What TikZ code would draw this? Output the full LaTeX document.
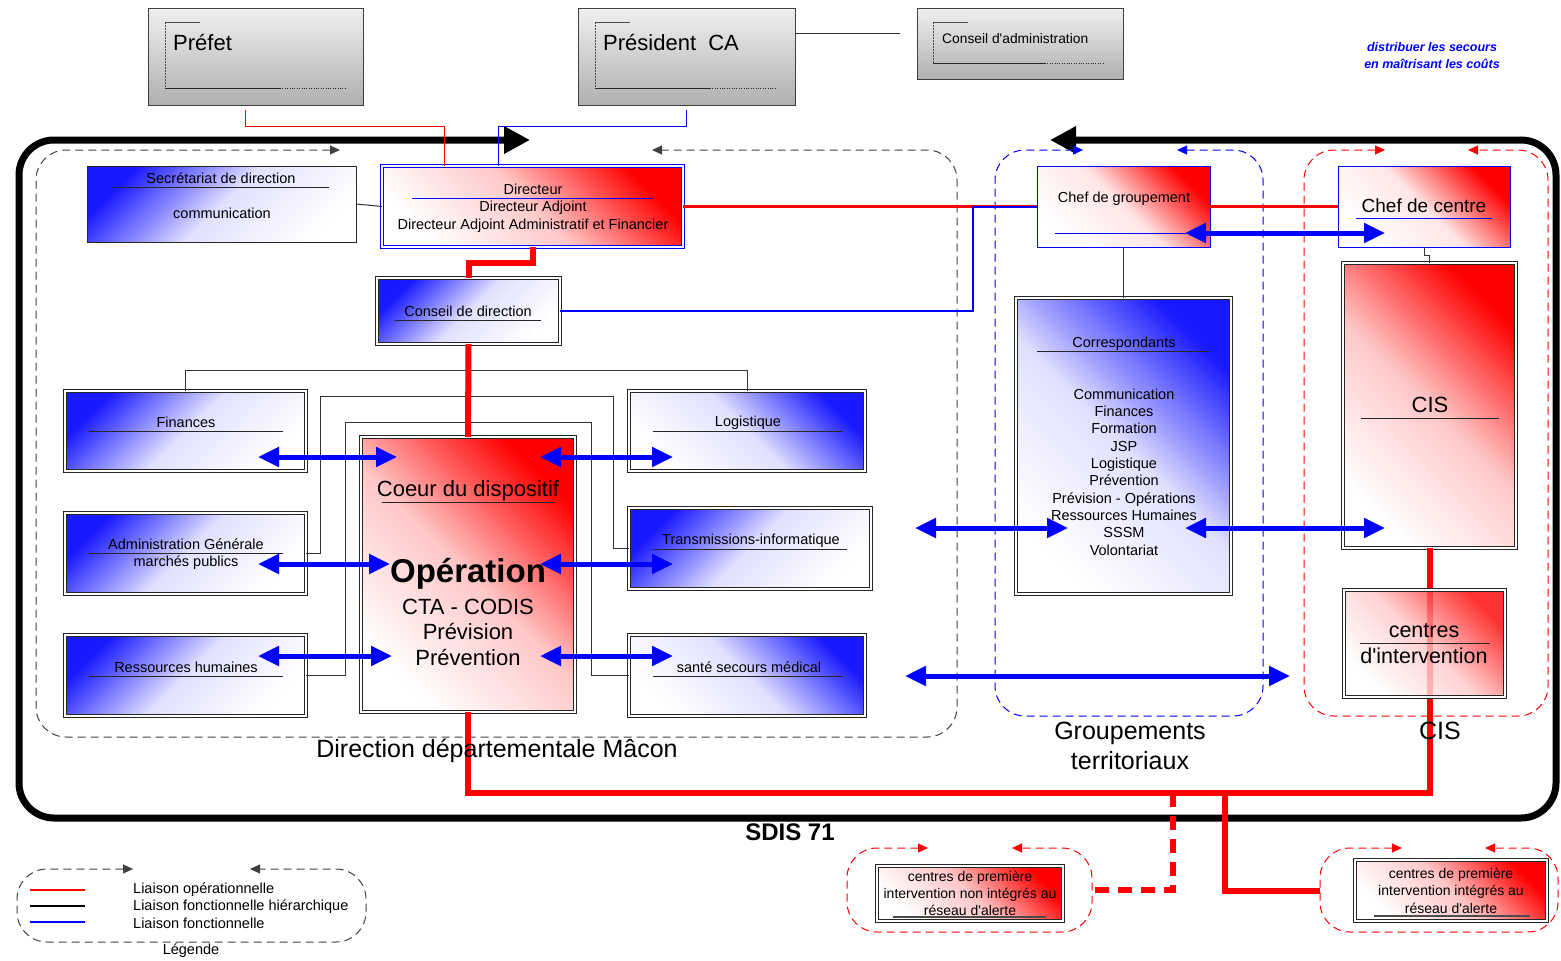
\documentclass[tikz,border=0pt]{standalone}
\usepackage{fontspec}
\setmainfont{Liberation Sans}
\usetikzlibrary{arrows.meta}

\tikzset{
  boite/.style={anchor=north west, inner sep=0pt, outer sep=0pt},
  grise/.style={boite, draw=black!75, line width=1pt, top color=gray!12, bottom color=gray!62},
  bleuesimple/.style={boite, draw=black!85, line width=1pt, top color=blue!90, bottom color=white, middle color=blue!12!white, shading angle=45},
  bleue/.style={boite, draw=black!85, double=white, double distance=2.4pt, line width=0.9pt, top color=blue!90, bottom color=white, middle color=blue!12!white, shading angle=45},
  bleued/.style={bleue, shading angle=-45},
  rouge/.style={boite, draw=black!85, double=white, double distance=2.4pt, line width=0.9pt, top color=red, bottom color=white, middle color=red!22!white, shading angle=-45},
  dirbox/.style={rouge, draw=blue},
  chef/.style={boite, draw=blue, line width=1pt, top color=red, bottom color=white, middle color=red!10!white, shading angle=-45},
  cadre/.style={line width=7pt, rounded corners=35pt, >={Triangle[length=26pt,width=26pt]}, <->},
  zone/.style={line width=1pt, dash pattern=on 8pt off 5pt, rounded corners=30pt, >={Triangle[length=10pt,width=9pt]}, <->},
  op/.style={red, line width=6pt},
  opmoy/.style={red, line width=3pt},
  opfin/.style={red, line width=1pt},
  fonc/.style={blue, line width=1pt},
  foncmoy/.style={blue, line width=2pt},
  hier/.style={black!80, line width=1pt},
  bleuarrow/.style={blue, line width=5pt, >={Triangle[length=21pt,width=19pt]}, <->},
  souligne/.style={black!85, line width=1pt},
  petit/.style={inner sep=0pt, align=center, font=\fontsize{14.5}{17.3}\selectfont},
  grand/.style={inner sep=0pt, align=center, font=\fontsize{22}{25.5}\selectfont},
  enorme/.style={inner sep=0pt, align=center, font=\fontsize{25}{30}\selectfont}
}

\begin{document}
\begin{tikzpicture}[x=1pt,y=-1pt]
\useasboundingbox (0,0) rectangle (1561,961);

% cadre SDIS et zones
\draw[cadre] (1050,140) -- (1556,140) -- (1556,818) -- (19,818) -- (19,140) -- (530,140);
\draw[zone, black!75] (340,150) -- (36,150) -- (36,737) -- (957,737) -- (957,150) -- (652,150);
\draw[zone, blue] (1083,150) -- (995,150) -- (995,716) -- (1263,716) -- (1263,150) -- (1177,150);
\draw[zone, red] (1385,150) -- (1304,150) -- (1304,716) -- (1548,716) -- (1548,150) -- (1468,150);
\draw[zone, red] (928,848) -- (847,848) -- (847,932) -- (1092,932) -- (1092,848) -- (1012,848);
\draw[zone, red] (1402,848) -- (1320,848) -- (1320,932) -- (1558,932) -- (1558,848) -- (1485,848);
\draw[zone, black!75] (133,869) -- (17,869) -- (17,942) -- (366,942) -- (366,869) -- (250,869);

% boites
\node[grise, minimum width=215pt, minimum height=97pt] (prefet) at (148,8) {};
\node[grise, minimum width=217pt, minimum height=97pt] (president) at (578,8) {};
\node[grise, minimum width=206pt, minimum height=71pt] (conseiladm) at (917,8) {};
\node[bleuesimple, minimum width=269pt, minimum height=76pt] (secretariat) at (87,166) {};
\node[dirbox, minimum width=301pt, minimum height=81pt] (directeur) at (382,166) {};
\node[bleue, minimum width=183pt, minimum height=66pt] (conseildir) at (377,278) {};
\node[bleue, minimum width=241pt, minimum height=80pt] (finances) at (65,391) {};
\node[bleue, minimum width=241pt, minimum height=81pt] (admin) at (65,513) {};
\node[bleue, minimum width=241pt, minimum height=81pt] (rh) at (65,635) {};
\node[rouge, minimum width=214pt, minimum height=275pt] (coeur) at (361,437) {};
\node[bleued, minimum width=236pt, minimum height=80pt] (logistique) at (629,391) {};
\node[bleue, minimum width=242pt, minimum height=81pt] (transmissions) at (629,508) {};
\node[bleued, minimum width=236pt, minimum height=81pt] (sante) at (629,635) {};
\node[chef, minimum width=173pt, minimum height=81pt] (chefgroup) at (1037,166) {};
\node[chef, minimum width=172pt, minimum height=81pt] (chefcentre) at (1338,166) {};
\node[bleued, minimum width=215pt, minimum height=296pt] (correspondants) at (1016,298) {};
\node[rouge, minimum width=173pt, minimum height=285pt] (cis) at (1343,263) {};
\node[rouge, minimum width=186pt, minimum height=55pt] (cpinon) at (877,866) {};
\node[rouge, minimum width=192pt, minimum height=61pt] (cpiint) at (1355,860) {};

% reperes des boites grises
\foreach \xa/\yb/\xc/\xd in {165/88/280/345, 595/88/710/775, 933/63/1045/1105} {
  \draw[black!70, line width=1pt] (\xa,22) -- (\xa+35,22);
  \draw[black!70, dash pattern=on 2pt off 1pt] (\xa,22) -- (\xa,\yb);
  \draw[black!85, line width=1pt] (\xa,\yb) -- (\xc,\yb);
  \draw[black!85, dotted] (\xc,\yb) -- (\xd,\yb);
}

% liaisons
\draw[opfin] ([xshift=-10pt,yshift=-5pt]prefet.south) -- ++(0,16) -| ([xshift=62pt]directeur.north west);
\draw[fonc] ([yshift=-5pt]president.south) -- ++(0,16) -| ([xshift=116pt]directeur.north west);
\draw[hier] ([yshift=23.5pt]president.east) -- ([xshift=-17pt,yshift=10.5pt]conseiladm.west);
\draw[hier] (secretariat.east) -- (directeur.west);
\draw[op] (directeur.south) -- ++(0,16) -| (conseildir.north);
\draw[hier] (finances.north) -- ++(0,-21) -| (logistique.north);
\draw[hier] (admin.east) -- ++(14,0) -- ++(0,-157) -| ([xshift=-16pt]transmissions.west) -- (transmissions.west);
\draw[hier] (rh.east) -- ++(39,0) -- ++(0,-253.5) -| ([xshift=-38pt]sante.west) -- (sante.west);
\draw[op] (conseildir.south) -- (coeur.north);
\draw[opmoy] (directeur.east) -- (chefgroup.west);
\draw[opmoy] (chefgroup.east) -- (chefcentre.west);
\draw[foncmoy] (conseildir.east) -| ([xshift=-64pt]chefgroup.west) -- (chefgroup.west);
\draw[hier] (chefgroup.south) -- (correspondants.north);
\draw[hier] (chefcentre.south) -- ++(0,8) -| (cis.north);
\draw[op] (cis.south) -- ++(0,245) -| (coeur.south);
\coordinate (busg) at (1173,793);
\coordinate (busd) at (1225,793);
\draw[op, dash pattern=on 14pt off 9pt] (busg) |- ([xshift=29pt,yshift=3.5pt]cpinon.east);
\draw[op] (busd) |- ([xshift=-35pt]cpiint.west);
\node[rouge, fill opacity=0.8, minimum width=161pt, minimum height=107pt] (centres) at (1344,590) {};

% soulignements
\draw[souligne] (113,187) -- (329,187);
\draw[souligne] (395,320) -- (541,320);
\draw[souligne] (89,431) -- (283,431);
\draw[souligne] (89,553) -- (283,553);
\draw[souligne] (89,676) -- (283,676);
\draw[souligne] (653,431) -- (843,431);
\draw[souligne] (653,549) -- (847,549);
\draw[souligne] (653,676) -- (843,676);
\draw[souligne] (382,502) -- (555,502);
\draw[souligne] (1037,351) -- (1210,351);
\draw[souligne] (1361,418) -- (1499,418);
\draw[souligne] (1360,643) -- (1490,643);
\draw[black!70, line width=1.5pt] (893,917) -- (1046,917);
\draw[black!70, line width=1.5pt] (1374,916) -- (1530,916);
\draw[fonc] (412,198) -- (653,198);
\draw[fonc] (1055,233) -- (1195,233);
\draw[fonc] (1356,218) -- (1492,218);

% fleches fonctionnelles
\draw[bleuarrow] ([xshift=-48pt,yshift=-26pt]finances.east) -- ++(139,0);
\draw[bleuarrow] ([xshift=-48pt,yshift=-10.5pt]admin.east) -- ++(132,0);
\draw[bleuarrow] ([xshift=-48pt,yshift=19.5pt]rh.east) -- ++(134,0);
\draw[bleuarrow] ([xshift=-89pt,yshift=-26pt]logistique.west) -- ++(133,0);
\draw[bleuarrow] ([xshift=-89pt,yshift=-15.5pt]transmissions.west) -- ++(133,0);
\draw[bleuarrow] ([xshift=-89pt,yshift=19.5pt]sante.west) -- ++(133,0);
\draw[bleuarrow] ([xshift=-101pt,yshift=-82pt]correspondants.west) -- ++(153,0);
\draw[bleuarrow] ([xshift=-46pt,yshift=-82pt]correspondants.east) -- ++(200,0);
\draw[bleuarrow] ([xshift=-111pt,yshift=-230pt]correspondants.west) -- ++(385,0);
\draw[bleuarrow] ([xshift=-25pt,yshift=-26.5pt]chefgroup.east) -- ++(200,0);

% legende
\draw[red, line width=1.5pt] (30,890) -- (85,890);
\draw[black, line width=1.5pt] (30,906) -- (85,906);
\draw[blue, line width=1.5pt] (30,922) -- (85,922);

% textes
\node[inner sep=0pt, anchor=west, font=\fontsize{22}{26}\selectfont] (tprefet) at (173,43) {Préfet};
\node[inner sep=0pt, anchor=west, font=\fontsize{22}{26}\selectfont] (tpresident) at (603,43) {Président\ \ CA};
\node[inner sep=0pt, anchor=west, font=\fontsize{13.8}{16}\selectfont] (tconseiladm) at (942,39) {Conseil d\textquotesingle administration};
\node[inner sep=0pt, align=center, text=blue, font=\bfseries\itshape\fontsize{12.5}{17}\selectfont] (tdevise) at (1432,55.5) {distribuer les secours\\en maîtrisant les coûts};
\node[petit] (tsecr) at (221,178) {Secrétariat de direction};
\node[petit] (tcomm) at (222,213) {communication};
\node[petit] (tdir) at (533,189) {Directeur};
\node[petit, font=\fontsize{14.5}{18}\selectfont] (tdiradj) at (533,217) {Directeur Adjoint\\Directeur Adjoint Administratif et Financier};
\node[petit] (tcdd) at (468,311) {Conseil de direction};
\node[petit] (tfin) at (186,422) {Finances};
\node[petit] (tadm) at (186,554) {Administration Générale\\marchés publics};
\node[petit] (trh) at (186,667) {Ressources humaines};
\node[petit] (tlog) at (748,423) {Logistique};
\node[petit] (ttrans) at (751,541) {Transmissions-informatique};
\node[petit] (tsante) at (749,667) {santé secours médical};
\node[grand] (tcoeur) at (468,491) {Coeur du dispositif};
\node[inner sep=0pt, font=\bfseries\fontsize{33}{36}\selectfont] (toper) at (468,574) {Opération};
\node[grand] (tcta) at (468,632) {CTA - CODIS\\Prévision\\Prévention};
\node[petit] (tchefg) at (1124,199) {Chef de groupement};
\node[inner sep=0pt, font=\fontsize{19}{22}\selectfont] (tchefc) at (1424,206) {Chef de centre};
\node[petit] (tcorr) at (1124,344) {Correspondants};
\node[petit] (tliste) at (1124,472) {Communication\\Finances\\Formation\\JSP\\Logistique\\Prévention\\Prévision - Opérations\\Ressources Humaines\\SSSM\\Volontariat};
\node[grand] (tcis) at (1430,405) {CIS};
\node[grand, font=\fontsize{21.5}{26}\selectfont] (tcentres) at (1424,644) {centres\\d\textquotesingle intervention};
\node[enorme] (tdd) at (497,751) {Direction départementale Mâcon};
\node[enorme] (tgt) at (1130,746) {Groupements\\territoriaux};
\node[enorme] (tcisz) at (1440,731) {CIS};
\node[inner sep=0pt, font=\bfseries\fontsize{24}{28}\selectfont] (tsdis) at (790,832) {SDIS 71};
\node[petit, font=\fontsize{14}{17}\selectfont] (tcpinon) at (970,893) {centres de première\\intervention non intégrés au\\réseau d\textquotesingle alerte};
\node[petit, font=\fontsize{14}{17.5}\selectfont] (tcpiint) at (1451,890.5) {centres de première\\intervention intégrés au\\réseau d\textquotesingle alerte};
\node[petit, anchor=west, align=left, font=\fontsize{14.5}{17.5}\selectfont] (tleg) at (133,905.5) {Liaison opérationnelle\\Liaison fonctionnelle hiérarchique\\Liaison fonctionnelle};
\node[petit] (tlegende) at (191,951) {Légende};
\end{tikzpicture}
\end{document}
